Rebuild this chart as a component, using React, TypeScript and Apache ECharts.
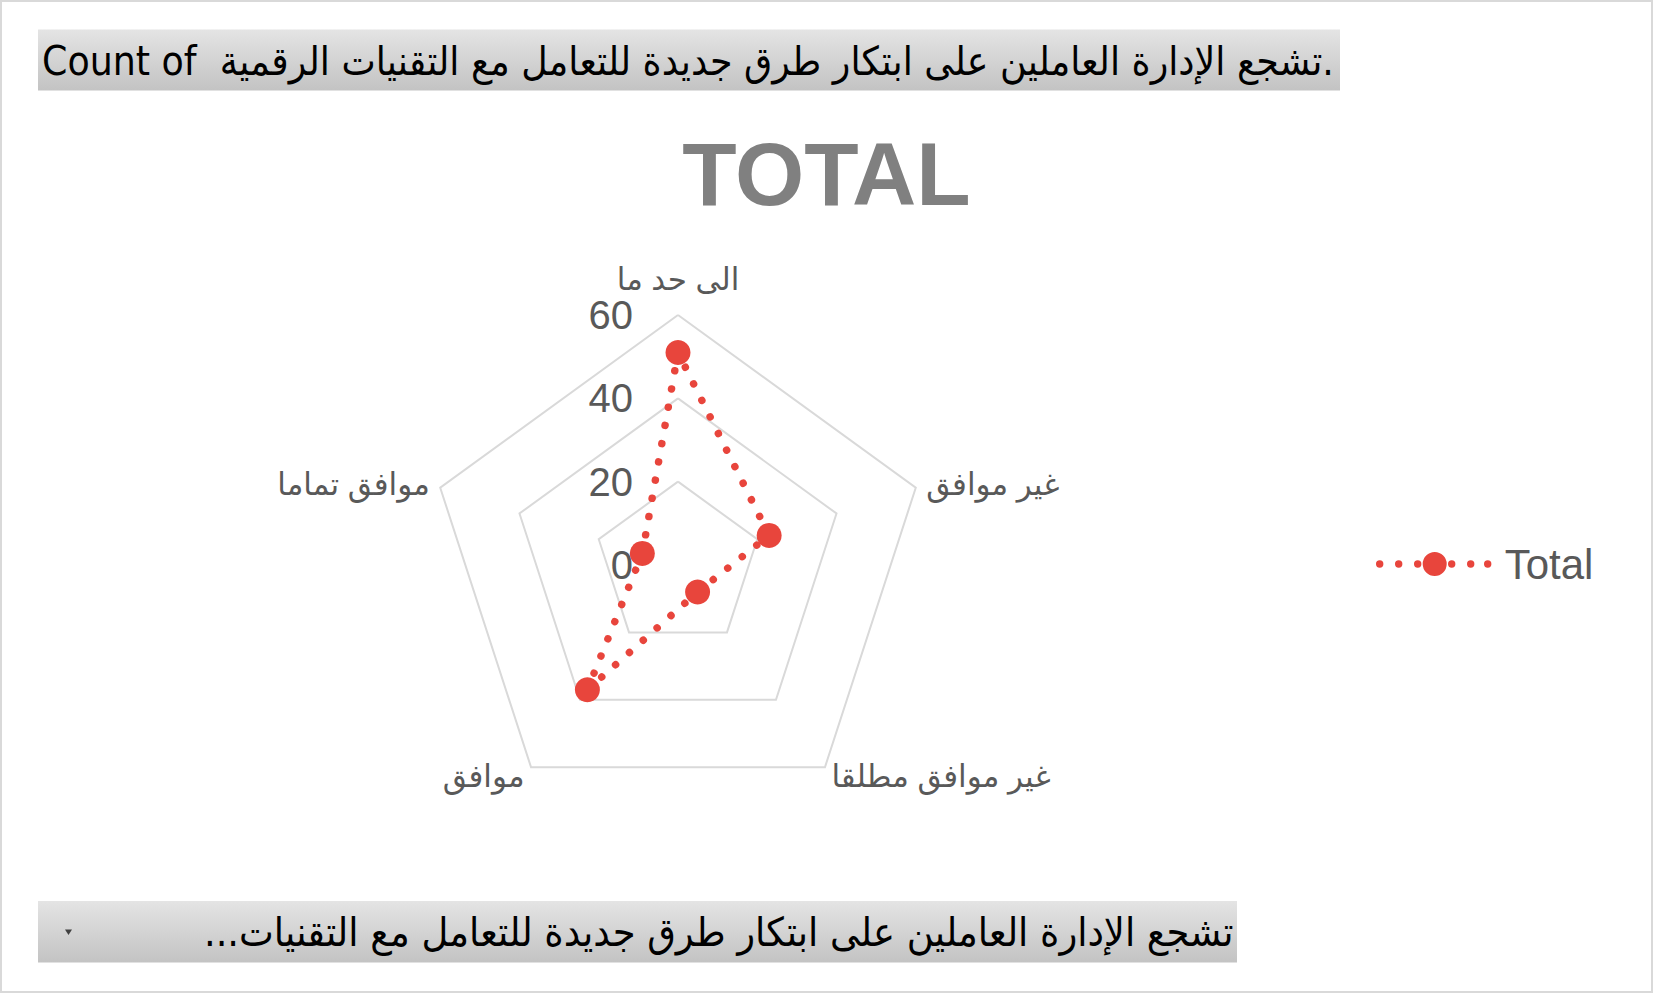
import React, { useEffect, useRef } from "react";
import * as echarts from "echarts";

// Indicator order follows ECharts (counter-clockwise from the top)
const categories = ["الى حد ما", "موافق تماما", "موافق", "غير موافق مطلقا", "غير موافق"];
const totalValues = [51, 9, 37, 8, 23];
const seriesName = "Total";
const axisMax = 60;
const axisSplit = 3;

const titleText = "TOTAL";
const headerText = "Count of  تشجع الإدارة العاملين على ابتكار طرق جديدة للتعامل مع التقنيات الرقمية.";
const footerText = "تشجع الإدارة العاملين على ابتكار طرق جديدة للتعامل مع التقنيات...\u200F";

const FONT = '"Liberation Sans", Arial, "DejaVu Sans", sans-serif';
const NARROW = '"DejaVu Sans Condensed", "DejaVu Sans", sans-serif';
const RED = "#E8453C";
const GREY = "#595959";

function measure(text: string, font: string): number {
  const ctx = document.createElement("canvas").getContext("2d");
  if (!ctx) return 1;
  ctx.font = font;
  return ctx.measureText(text).width || 1;
}

function circ(cx: number, cy: number, r: number): string {
  return `M${cx - r} ${cy} a${r} ${r} 0 1 0 ${2 * r} 0 a${r} ${r} 0 1 0 ${-2 * r} 0 Z`;
}

export default function App() {
  const ref = useRef<HTMLDivElement>(null);
  useEffect(() => {
    if (!ref.current) return;
    const chart = echarts.init(ref.current, null, { renderer: "svg" });

    const hdrSize = 40;
    const hdrFont = `${hdrSize}px ${NARROW}`;
    const headerScale = 1292 / measure(headerText, hdrFont);
    const footerScale = 1030 / measure(footerText, hdrFont);

    const r = 3.7;
    const iconPath =
      "path://" +
      [5, 24, 43, 77, 96, 113].map((x) => circ(x, 12, r)).join(" ") +
      " " +
      circ(60, 12, 12);

    const gradient = {
      type: "linear",
      x: 0,
      y: 0,
      x2: 0,
      y2: 1,
      colorStops: [
        { offset: 0, color: "#E4E4E4" },
        { offset: 1, color: "#C3C3C3" },
      ],
    };

    chart.setOption({
      animation: false,
      backgroundColor: "#ffffff",
      textStyle: { fontFamily: FONT },
      title: {
        text: titleText,
        left: "center",
        top: 124,
        textStyle: { fontSize: 89, fontWeight: "bold", color: "#808080", fontFamily: FONT },
      },
      legend: {
        data: [seriesName],
        left: 1376,
        top: 543,
        padding: 0,
        icon: iconPath,
        itemWidth: 116,
        itemHeight: 24,
        textStyle: { fontSize: 42, color: GREY, fontFamily: FONT, padding: [0, 0, 0, 8] },
      },
      radar: {
        center: [678, 565],
        radius: 250,
        startAngle: 90,
        shape: "polygon",
        splitNumber: axisSplit,
        indicator: categories.map((name, i) =>
          i === 0
            ? { name, min: 0, max: axisMax, axisLabel: { show: true } }
            : { name, min: 0, max: axisMax }
        ),
        nameGap: 11,
        axisName: { color: GREY, fontSize: 31, fontFamily: FONT },
        axisLine: { show: false },
        axisTick: { show: false },
        axisLabel: { show: false, fontSize: 40, color: GREY, margin: 45, fontFamily: FONT },
        splitLine: { lineStyle: { color: "#D9D9D9", width: 2 } },
        splitArea: { show: false },
      },
      series: [
        {
          type: "radar",
          name: seriesName,
          symbol: "circle",
          symbolSize: 25,
          itemStyle: { color: RED },
          lineStyle: { color: RED, width: 7.5, type: [0.01, 18.5], cap: "round" },
          data: [{ value: totalValues, name: seriesName }],
        },
      ],
      graphic: [
        {
          type: "rect",
          shape: { x: 1, y: 1, width: 1651, height: 991 },
          style: { fill: "none", stroke: "#D9D9D9", lineWidth: 2 },
          silent: true,
        },
        {
          type: "rect",
          shape: { x: 38, y: 29.5, width: 1302, height: 61 },
          style: { fill: gradient },
          silent: true,
        },
        {
          type: "text",
          x: 42,
          y: 61,
          scaleX: headerScale,
          style: {
            text: headerText,
            font: hdrFont,
            fill: "#000000",
            align: "left",
            verticalAlign: "middle",
          },
        },
        {
          type: "rect",
          shape: { x: 38, y: 901, width: 1199, height: 61.5 },
          style: { fill: gradient },
          silent: true,
        },
        {
          type: "text",
          x: 1233.5,
          y: 932,
          scaleX: footerScale,
          style: {
            text: footerText,
            font: hdrFont,
            fill: "#000000",
            align: "right",
            verticalAlign: "middle",
          },
        },
        {
          type: "polygon",
          shape: { points: [[65, 929.5], [72, 929.5], [68.5, 935]] },
          style: { fill: "#404040" },
          silent: true,
        },
      ],
    });
    return () => chart.dispose();
  }, []);
  return (
    <div
      ref={ref}
      style={{ position: "absolute", left: 0, top: 0, width: 1653, height: 993 }}
    />
  );
}
